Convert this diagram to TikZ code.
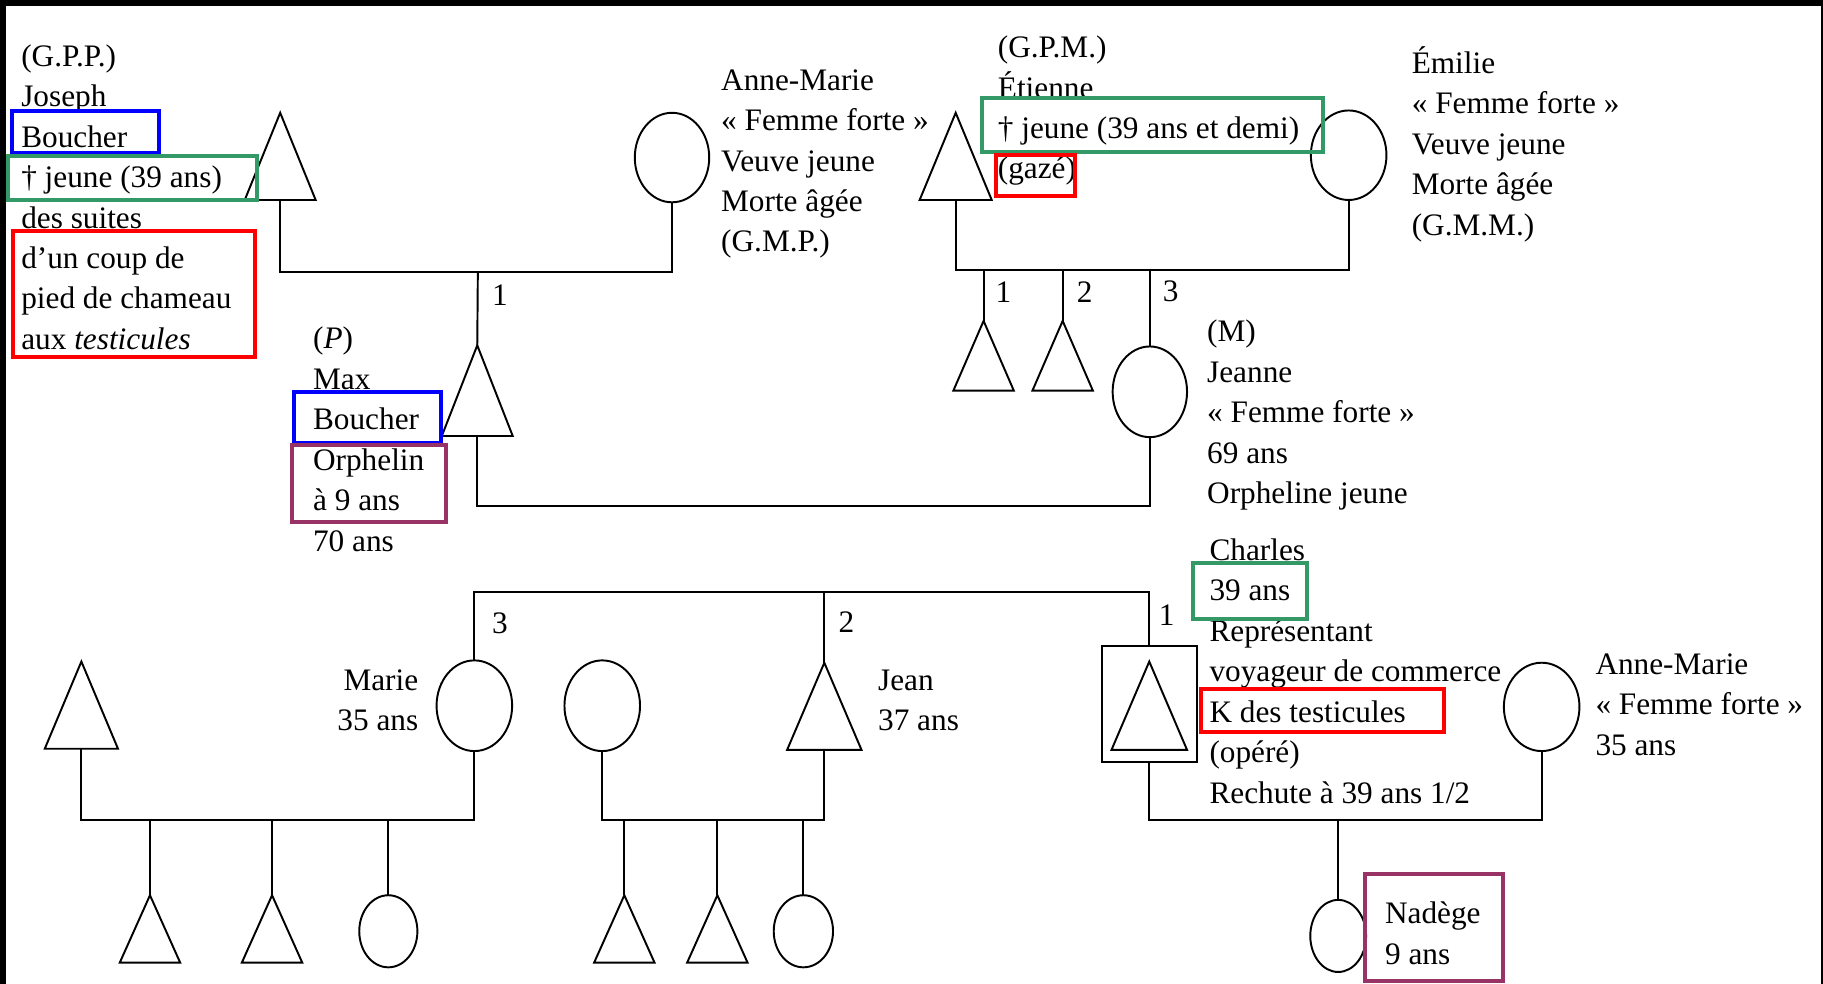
\documentclass[tikz,border=0pt]{standalone}
\usepackage{fontspec}
\setmainfont{Liberation Serif}
\usetikzlibrary{shapes.geometric}
\newcommand\U{0.02325cm}
\definecolor{hlgreen}{RGB}{51,153,102}
\definecolor{hlpurple}{RGB}{153,51,102}
\definecolor{hlblue}{RGB}{0,0,255}
\definecolor{hlred}{RGB}{255,0,0}
\tikzset{
  ln/.style={line width=1.1pt, line join=miter},
  fem/.style 2 args={ellipse, draw, line width=1.1pt, inner sep=0pt, outer sep=0pt,
    minimum width=#1*\U, minimum height=#2*\U},
  tribox/.style={rectangle, draw=none, inner sep=0pt, outer sep=0pt},
  sqbox/.style={rectangle, draw, line width=1.1pt, inner sep=0pt, outer sep=0pt},
  txt/.style={inner sep=0pt, align=left, anchor=north west, font=\fontsize{17.8}{23}\selectfont},
  num/.style={inner sep=0pt, anchor=base, font=\fontsize{17.8}{23}\selectfont},
  hl/.style={line width=2.3pt},
}
\newcommand\tri[5]{%
  \node[tribox, minimum width=#4*\U, minimum height=#5*\U] (#1) at (#2,#3) {};
  \draw[ln] (#1.south west) -- (#1.north) -- (#1.south east) -- cycle;}
\begin{document}
\begin{tikzpicture}[x=0.02325cm, y=-0.02325cm]
\useasboundingbox (0,0) rectangle (1568,846);
\fill[black] (0,0) rectangle (1568,846);
\fill[white] (5.2,5.2) rectangle (1566,846);

% ---------- generation 1 ----------
\tri{gpp}{241}{134.5}{61}{75}
\node[fem={64}{77}] (gmp) at (578,135.5) {};
\tri{gpm}{822}{134.5}{62}{75}
\node[fem={65}{77}] (emilie) at (1160,133.5) {};

% ---------- generation 2 ----------
\tri{max}{410.5}{336}{61}{78}
\node[fem={64}{78}] (jeanne) at (989,337) {};
\tri{gk1}{846}{306}{52}{60}
\tri{gk2}{914}{306}{52}{60}

% ---------- generation 3 ----------
\tri{mh}{70}{606.5}{63}{75}
\node[fem={65}{78}] (marie) at (408,607) {};
\node[fem={65}{78}] (jw) at (518,607) {};
\tri{jean}{709}{607.5}{64}{75}
\node[sqbox, minimum width=82*\U, minimum height=99*\U] (chsq) at (988.5,605.5) {};
\tri{ch}{988.5}{607}{65}{76}
\node[fem={65}{76}] (am) at (1326,608) {};

% ---------- generation 4 ----------
\tri{mk1}{129}{799}{52}{58}
\tri{mk2}{234}{799}{52}{58}
\node[fem={50}{62}] (mk3) at (334,801) {};
\tri{jk1}{537}{799}{52}{58}
\tri{jk2}{617}{799}{52}{58}
\node[fem={51}{62}] (jk3) at (691,801) {};
\node[fem={48}{62}] (nad) at (1151,805) {};

% ---------- connectors ----------
\coordinate (m1) at (411,234);
\draw[ln] (gpp.south) |- (m1) -| (gmp.south);
\draw[ln] (m1) -- (max.north);
\coordinate (m2) at (700,435);
\draw[ln] (max.south) |- (m2) -| (jeanne.south);
\coordinate (m3) at (989,232);
\draw[ln] (gpm.south) |- (m3) -| (emilie.south);
\draw[ln] (m3) -- (jeanne.north);
\draw[ln] (gk1.north |- m3) -- (gk1.north);
\draw[ln] (gk2.north |- m3) -- (gk2.north);

\coordinate (sb) at (709,509);
\draw[ln] (marie.north) |- (sb) -| (chsq.north);
\draw[ln] (sb) -- (jean.north);
\coordinate (m4) at (250,705);
\draw[ln] (mh.south) |- (m4) -| (marie.south);
\draw[ln] (mk1.north |- m4) -- (mk1.north);
\draw[ln] (mk2.north |- m4) -- (mk2.north);
\draw[ln] (mk3.north |- m4) -- (mk3.north);
\coordinate (m5) at (600,705);
\draw[ln] (jw.south) |- (m5) -| (jean.south);
\draw[ln] (jk1.north |- m5) -- (jk1.north);
\draw[ln] (jk2.north |- m5) -- (jk2.north);
\draw[ln] (jk3.north |- m5) -- (jk3.north);
\coordinate (m6) at (1151,705);
\draw[ln] (chsq.south) |- (m6) -| (am.south);
\draw[ln] (m6) -- (nad.north);

% ---------- numbers ----------
\node[num] (n1) at (430,262.5) {1};
\node[num] (n2) at (863,260) {1};
\node[num] (n3) at (933,260) {2};
\node[num] (n4) at (1007,259) {3};
\node[num] (n5) at (430,545) {3};
\node[num] (n6) at (728,544) {2};
\node[num] (n7) at (1003.5,538) {1};

% ---------- texts ----------
\node[txt] (tgpp) at (18,32.5) {\strut (G.P.P.)\\Joseph\\Boucher\\† jeune (39 ans)\\des suites\\d'un coup de\\pied de chameau\\aux \textit{testicules}};
\node[txt] (tgmp) at (620,53) {\strut Anne-Marie\\« Femme forte »\\Veuve jeune\\Morte âgée\\(G.M.P.)};
\node[txt] (tgpm) at (858,25) {\strut (G.P.M.)\\Étienne\\† jeune (39 ans et demi)\\(gazé)};
\node[txt] (temi) at (1214,38.5) {\strut Émilie\\« Femme forte »\\Veuve jeune\\Morte âgée\\(G.M.M.)};
\node[txt] (tmax) at (269,275.5) {\strut (\textit{P})\\Max\\Boucher\\Orphelin\\à 9 ans\\70 ans};
\node[txt] (tjea) at (1038,269.5) {\strut (M)\\Jeanne\\« Femme forte »\\69 ans\\Orpheline jeune};
\node[txt] (tcha) at (1040,457.5) {\strut Charles\\39 ans\\Représentant\\voyageur de commerce\\K des testicules\\(opéré)\\Rechute à 39 ans 1/2};
\node[txt] (tam) at (1372,555.5) {\strut Anne-Marie\\« Femme forte »\\35 ans};
\node[txt] (tnad) at (1191,769.8) {\strut Nadège\\9 ans};
\node[txt, anchor=north east, align=right] (tmar) at (360,569) {\strut Marie\\35 ans};
\node[txt] (tjean) at (755,569) {\strut Jean\\37 ans};

% ---------- highlight boxes ----------
\draw[hl, hlblue] (10,95.5) rectangle (137,131.7);
\draw[hl, hlgreen] (6.6,134) rectangle (220.8,172);
\draw[hl, hlred] (11.5,199) rectangle (219,307);
\draw[hl, hlblue] (253,337) rectangle (379,381);
\draw[hl, hlpurple] (251,383) rectangle (384,449);
\draw[hl, hlgreen] (845,84) rectangle (1138,130.5);
\draw[hl, hlred] (856.4,133.3) rectangle (925,168.3);
\draw[hl, hlgreen] (1026,484.5) rectangle (1124,532.5);
\draw[hl, hlred] (1032.8,593) rectangle (1242,630);
\draw[hl, hlpurple] (1174,752) rectangle (1293,844);
\end{tikzpicture}
\end{document}
